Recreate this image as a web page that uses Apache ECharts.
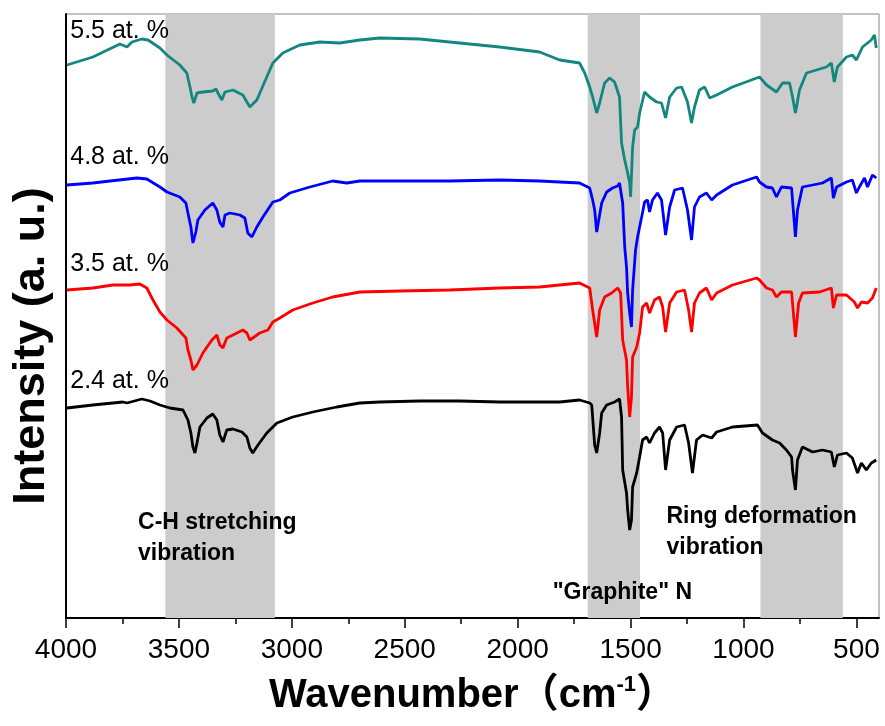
<!DOCTYPE html>
<html><head><meta charset="utf-8">
<script src="https://cdn.jsdelivr.net/npm/echarts@6/dist/echarts.min.js"></script>
<style>html,body{margin:0;padding:0;background:#fff}#c{width:885px;height:726px}</style>
</head><body><div id="c"></div>
<script>
// ---- data (wavenumber cm-1, intensity a.u. with vertical offsets) ----
const sampleNames = ['5.5 at. %', '4.8 at. %', '3.5 at. %', '2.4 at. %'];
const s55 = [[3996,553],[3881,561],[3761,574],[3730,571],[3708,576],[3664,579],[3637,578],[3584,570],[3553,563],[3496,553],[3465,545],[3451,531],[3442,521],[3434,515],[3420,525],[3394,526],[3350,527],[3336,529],[3327,525],[3310,518],[3296,526],[3261,528],[3217,523],[3186,511],[3155,518],[3111,541],[3084,555],[3040,565],[2965,573],[2876,576],[2788,575],[2699,578],[2611,580],[2434,579],[2257,575],[2080,571],[1903,566],[1814,558],[1726,555],[1703,545],[1681,531],[1668,521],[1650,505],[1637,515],[1615,535],[1593,540],[1571,536],[1549,521],[1540,475],[1526,458],[1513,445],[1504,435],[1500,421],[1491,471],[1482,488],[1469,491],[1460,505],[1438,526],[1416,521],[1385,516],[1363,515],[1345,500],[1327,521],[1296,530],[1274,531],[1248,516],[1230,495],[1217,511],[1195,528],[1172,531],[1150,520],[1119,523],[1049,531],[929,541],[898,533],[854,526],[827,535],[796,535],[783,521],[770,505],[752,528],[721,545],[633,551],[611,555],[598,536],[584,551],[544,561],[518,563],[500,558],[473,571],[434,578],[420,583],[412,570]];
const s48 = [[3996,433],[3881,435],[3805,437],[3686,440],[3642,439],[3584,431],[3553,426],[3496,421],[3469,415],[3460,405],[3447,391],[3438,375],[3425,386],[3416,398],[3385,408],[3350,415],[3332,408],[3319,396],[3305,391],[3296,403],[3274,405],[3230,403],[3208,400],[3195,385],[3177,381],[3155,391],[3128,401],[3084,416],[3053,418],[3009,425],[2920,431],[2819,437],[2757,435],[2699,437],[2522,437],[2301,437],[2080,438],[1903,437],[1814,436],[1726,435],[1681,430],[1668,418],[1659,408],[1650,386],[1641,398],[1628,415],[1606,426],[1580,430],[1557,432],[1549,435],[1535,415],[1526,371],[1518,351],[1513,325],[1504,305],[1496,291],[1491,328],[1478,368],[1469,381],[1451,401],[1438,416],[1425,418],[1416,406],[1403,418],[1381,425],[1363,418],[1345,383],[1327,411],[1305,428],[1270,430],[1248,408],[1230,378],[1217,411],[1195,421],[1164,425],[1141,418],[1119,423],[1049,433],[942,441],[929,436],[898,431],[872,430],[854,421],[832,431],[787,430],[783,418],[770,381],[761,408],[739,431],[694,433],[650,435],[611,440],[602,420],[588,431],[544,436],[518,438],[500,425],[487,431],[464,440],[451,431],[429,443],[412,440]];
const s35 = [[3996,328],[3881,330],[3792,333],[3717,333],[3673,334],[3642,330],[3615,318],[3584,306],[3553,298],[3509,290],[3469,280],[3460,268],[3447,258],[3438,248],[3420,253],[3394,265],[3354,278],[3332,283],[3319,273],[3305,270],[3288,280],[3261,283],[3217,288],[3199,285],[3186,278],[3173,280],[3142,285],[3106,288],[3084,296],[3053,300],[2996,308],[2907,315],[2819,321],[2699,326],[2522,327],[2301,328],[2080,330],[1903,331],[1814,333],[1726,335],[1681,330],[1668,308],[1650,281],[1637,308],[1615,321],[1584,325],[1557,330],[1544,325],[1535,278],[1518,258],[1513,231],[1504,201],[1496,221],[1491,261],[1473,271],[1460,285],[1447,311],[1429,315],[1416,305],[1394,318],[1372,321],[1358,311],[1345,286],[1327,315],[1296,326],[1261,328],[1243,308],[1230,286],[1217,315],[1195,325],[1164,330],[1141,318],[1119,325],[1049,333],[942,340],[929,338],[898,330],[872,328],[854,321],[832,326],[787,326],[783,315],[770,281],[756,315],[739,325],[663,326],[611,330],[602,310],[588,323],[544,323],[509,316],[495,310],[478,316],[451,315],[429,320],[412,330]];
const s24 = [[3996,210],[3881,213],[3748,216],[3730,215],[3664,219],[3628,217],[3584,213],[3540,210],[3482,208],[3460,198],[3447,185],[3438,171],[3429,165],[3420,175],[3407,191],[3376,200],[3350,204],[3332,198],[3319,183],[3305,176],[3288,188],[3261,189],[3221,186],[3199,181],[3186,170],[3173,165],[3150,173],[3111,185],[3066,195],[2996,201],[2907,206],[2801,211],[2699,215],[2611,216],[2434,217],[2257,217],[2080,216],[1903,216],[1814,216],[1726,218],[1681,215],[1672,213],[1659,173],[1650,165],[1637,185],[1628,205],[1606,213],[1571,216],[1549,219],[1540,201],[1535,148],[1518,125],[1513,108],[1504,88],[1496,98],[1491,131],[1473,145],[1460,161],[1447,178],[1429,181],[1416,175],[1394,185],[1372,191],[1358,185],[1345,148],[1327,178],[1296,191],[1261,193],[1243,175],[1226,145],[1208,178],[1181,183],[1141,180],[1119,186],[1049,191],[938,193],[916,185],[872,178],[840,175],[810,168],[787,161],[783,148],[770,128],[761,158],[739,171],[694,166],[650,168],[611,166],[598,151],[584,163],[544,165],[518,160],[495,145],[478,155],[456,148],[434,155],[412,158]];
const xTicks = [4000, 3500, 3000, 2500, 2000, 1500, 1000, 500];
const xMinorTicks = [3750, 3250, 2750, 2250, 1750, 1250, 750];
const bands = [[3560, 3075], [1690, 1458], [925, 560]];
const annotationTexts = ['C-H stretching', 'vibration', 'Ring deformation', 'vibration', '"Graphite" N'];

// ---- layout / style (positions in data coordinates) ----
const LAYOUT = {
  sampleLabelAt: [[3990, 587], [3990, 461], [3990, 354], [3990, 237]],
  annotationAt: [[3681, 95], [3681, 64], [1341, 101], [1341, 70], [1845, 25]]
};
const lineColors = ['#12877f', '#0000ff', '#ff0000', '#000000'];
const FONT = "'Liberation Sans', Arial, 'Noto Sans CJK SC', sans-serif";

const chart = echarts.init(document.getElementById('c'), null, {renderer: 'canvas'});
const seriesData = [s55, s48, s35, s24];

const series = [];
series.push({
  type: 'line', data: [], z: 1, silent: true,
  markArea: {
    silent: true,
    itemStyle: {color: '#cccccc', opacity: 1},
    data: bands.map(b => [{xAxis: b[0]}, {xAxis: b[1]}])
  }
});
seriesData.forEach((d, i) => {
  series.push({
    type: 'line', data: d, name: sampleNames[i], showSymbol: false, z: 3,
    lineStyle: {color: lineColors[i], width: 2.8}, silent: true
  });
});
series.push({
  type: 'scatter', symbolSize: 0, z: 4, silent: true, itemStyle: {opacity: 1},
  data: sampleNames.map((n, i) => ({value: LAYOUT.sampleLabelAt[i], name: n})),
  label: {show: true, position: 'right', distance: 2, formatter: p => p.name,
    fontFamily: FONT, fontSize: 25, color: '#000'}
});
series.push({
  type: 'scatter', symbolSize: 0, z: 4, silent: true, itemStyle: {opacity: 1},
  data: annotationTexts.map((n, i) => ({value: LAYOUT.annotationAt[i], name: n})),
  label: {show: true, position: 'right', distance: 0, formatter: p => p.name,
    fontFamily: FONT, fontSize: 23, fontWeight: 'bold', color: '#000'}
});

chart.setOption({
  animation: false,
  backgroundColor: '#fff',
  grid: {left: 66, right: 6, top: 14, bottom: 108, show: true, borderColor: '#888', borderWidth: 1},
  xAxis: [{
    type: 'value', min: 400, max: 4000, inverse: true, position: 'bottom',
    splitLine: {show: false},
    axisLine: {show: true, onZero: false, lineStyle: {color: '#000', width: 2}},
    axisTick: {show: true, customValues: xTicks, length: 10, lineStyle: {color: '#000', width: 1.5}},
    axisLabel: {show: true, customValues: xTicks, margin: 18, formatter: v => String(v),
      fontFamily: FONT, fontSize: 28, color: '#000'},
    name: 'Wavenumber（cm{sup|-1}）', nameLocation: 'middle', nameGap: 56,
    nameTextStyle: {fontFamily: FONT, fontSize: 40, fontWeight: 'bold', color: '#000', lineHeight: 44,
      rich: {sup: {fontFamily: FONT, fontSize: 22, fontWeight: 'bold', color: '#000', lineHeight: 22, verticalAlign: 'top'}}}
  }, {
    type: 'value', min: 400, max: 4000, inverse: true, position: 'bottom',
    splitLine: {show: false},
    axisLine: {show: false},
    axisTick: {show: true, customValues: xMinorTicks, length: 6, lineStyle: {color: '#000', width: 1.5}},
    axisLabel: {show: false}
  }],
  yAxis: {
    type: 'value', min: 0, max: 604,
    splitLine: {show: false},
    axisLine: {show: true, lineStyle: {color: '#000', width: 2}},
    axisTick: {show: false}, axisLabel: {show: false},
    name: 'Intensity (a. u.)', nameLocation: 'middle', nameGap: 12,
    nameTextStyle: {fontFamily: FONT, fontSize: 45, fontWeight: 'bold', color: '#000', padding: [0, 60, 0, 0]}
  },
  series: series
});
</script></body></html>
